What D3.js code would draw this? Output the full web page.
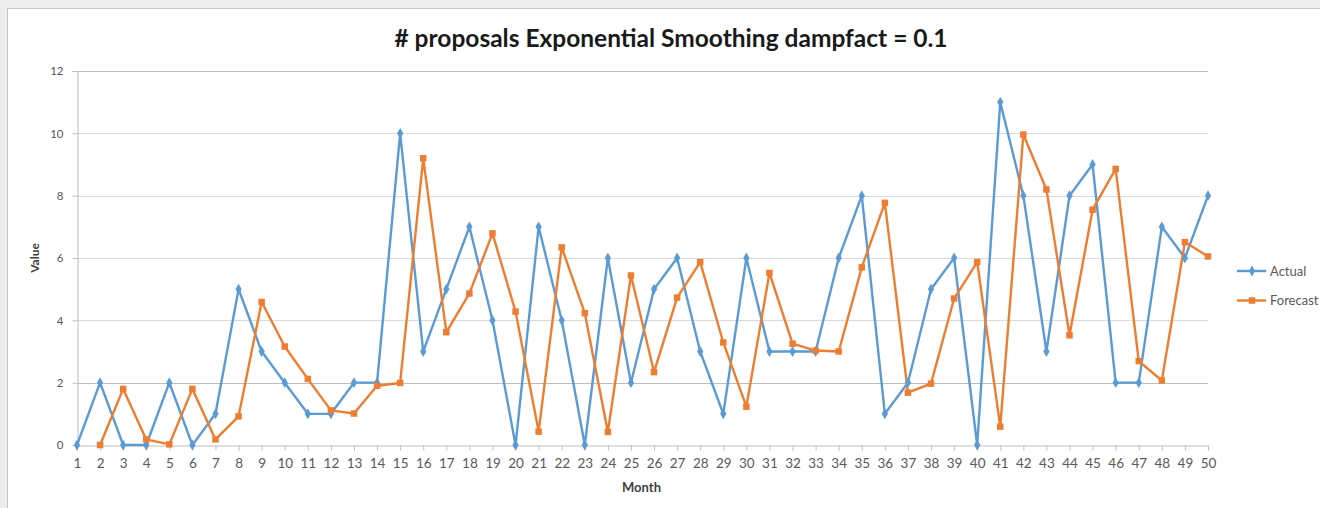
<!DOCTYPE html>
<html>
<head>
<meta charset="utf-8">
<script src="https://cdn.jsdelivr.net/npm/d3@7/dist/d3.min.js"></script>
<style>
  html, body { margin: 0; padding: 0; background: #ececec; }
  svg { display: block; }
</style>
</head>
<body>
<svg id="chart" width="1320" height="508"></svg>
<script>
// Months 1..50
const months = d3.range(1, 51);

// Actual number of proposals per month
const actual = [0, 2, 0, 0, 2, 0, 1, 5, 3, 2,
                1, 1, 2, 2, 10, 3, 5, 7, 4, 0,
                7, 4, 0, 6, 2, 5, 6, 3, 1, 6,
                3, 3, 3, 6, 8, 1, 2, 5, 6, 0,
                11, 8, 3, 8, 9, 2, 2, 7, 6, 8];

// Exponential smoothing forecast (no value for month 1)
const forecast = [null, 0, 1.8, 0.18, 0.02, 1.8, 0.18, 0.92, 4.59, 3.16,
                  2.12, 1.11, 1.01, 1.9, 1.99, 9.2, 3.62, 4.86, 6.79, 4.28,
                  0.43, 6.34, 4.23, 0.42, 5.44, 2.34, 4.73, 5.87, 3.29, 1.23,
                  5.52, 3.25, 3.03, 3.0, 5.7, 7.77, 1.68, 1.97, 4.7, 5.87,
                  0.59, 9.96, 8.2, 3.52, 7.55, 8.86, 2.69, 2.07, 6.51, 6.05];

const yTicks = [0, 2, 4, 6, 8, 10, 12];

const seriesNames = ["Actual", "Forecast"];
const seriesColors = ["#5b9bd5", "#ed7d31"];

const svg = d3.select("#chart");
const W = 1320, H = 508;

// white chart panel
svg.append("rect")
  .attr("x", 7.5).attr("y", 8.5)
  .attr("width", W).attr("height", H)
  .attr("fill", "#ffffff")
  .attr("stroke", "#c6c6c6");

const plot = { left: 77, right: 1208, top: 71, bottom: 445 };

const x = d3.scalePoint().domain(months).range([plot.left, plot.right]);
const y = d3.scaleLinear().domain([0, 12]).range([plot.bottom, plot.top]);

const font = "Lato, 'Open Sans', sans-serif";

// gridlines
svg.append("g")
  .selectAll("line")
  .data(yTicks.filter(d => d > 0))
  .join("line")
  .attr("x1", plot.left).attr("x2", plot.right)
  .attr("y1", d => Math.round(y(d)) + 0.5).attr("y2", d => Math.round(y(d)) + 0.5)
  .attr("stroke", d => (d === 2 || d === 12) ? "#bdbdbd" : "#dadada")
  .attr("stroke-width", 1);

// y axis
const yAxis = svg.append("g")
  .attr("transform", `translate(${plot.left + 0.5},0)`)
  .call(d3.axisLeft(y).tickValues(yTicks).tickSize(5).tickPadding(9));
yAxis.select(".domain").attr("stroke", "#bfbfbf");
yAxis.selectAll(".tick line").attr("stroke", "#bfbfbf");
yAxis.selectAll(".tick text")
  .attr("fill", "#595959").style("font-family", font).style("font-size", "11.5px");

// x axis
const xAxis = svg.append("g")
  .attr("transform", `translate(0,${plot.bottom + 0.5})`)
  .call(d3.axisBottom(x).tickSize(5).tickPadding(8));
xAxis.select(".domain").attr("stroke", "#bfbfbf");
xAxis.selectAll(".tick line").attr("stroke", "#bfbfbf");
xAxis.selectAll(".tick text")
  .attr("fill", "#595959").style("font-family", font).style("font-size", "13.5px");

// axis titles
svg.append("text")
  .attr("x", (plot.left + plot.right) / 2 - 1).attr("y", 492)
  .attr("text-anchor", "middle")
  .style("font-family", font).style("font-size", "13px").style("font-weight", "bold")
  .attr("fill", "#404040")
  .text("Month");

svg.append("text")
  .attr("transform", `translate(39,${(plot.top + plot.bottom) / 2}) rotate(-90)`)
  .attr("text-anchor", "middle")
  .style("font-family", font).style("font-size", "12px").style("font-weight", "bold")
  .attr("fill", "#404040")
  .text("Value");

// chart title
svg.append("text")
  .attr("x", 671).attr("y", 47)
  .attr("text-anchor", "middle")
  .style("font-family", font).style("font-size", "24.5px").style("font-weight", "bold")
  .attr("fill", "#1a1a1a")
  .text("# proposals Exponential Smoothing dampfact = 0.1");

// series
const line = d3.line()
  .defined(d => d.v !== null)
  .x(d => x(d.m)).y(d => y(d.v));

const seriesData = [
  months.map((m, i) => ({ m, v: actual[i] })),
  months.map((m, i) => ({ m, v: forecast[i] }))
];

const diamond = d3.symbol().type(d3.symbolDiamond).size(34);
const square = d3.symbol().type(d3.symbolSquare).size(42);
const shapes = [diamond, square];

seriesData.forEach((data, si) => {
  svg.append("path")
    .datum(data)
    .attr("d", line)
    .attr("fill", "none")
    .attr("stroke", seriesColors[si])
    .attr("stroke-width", 2.4)
    .attr("stroke-linejoin", "round");
});

seriesData.forEach((data, si) => {
  svg.append("g")
    .selectAll("path")
    .data(data.filter(d => d.v !== null))
    .join("path")
    .attr("transform", d => `translate(${x(d.m)},${y(d.v)})`)
    .attr("d", shapes[si])
    .attr("fill", seriesColors[si]);
});

// legend
const legend = svg.append("g");
seriesNames.forEach((name, i) => {
  const ly = 271 + i * 29.5;
  legend.append("line")
    .attr("x1", 1237).attr("x2", 1266).attr("y1", ly).attr("y2", ly)
    .attr("stroke", seriesColors[i]).attr("stroke-width", 2.4);
  legend.append("path")
    .attr("transform", `translate(1252,${ly})`)
    .attr("d", shapes[i])
    .attr("fill", seriesColors[i]);
  legend.append("text")
    .attr("x", 1270).attr("y", ly + 4.5)
    .style("font-family", font).style("font-size", "13px")
    .attr("fill", "#595959")
    .text(name);
});
</script>
</body>
</html>
